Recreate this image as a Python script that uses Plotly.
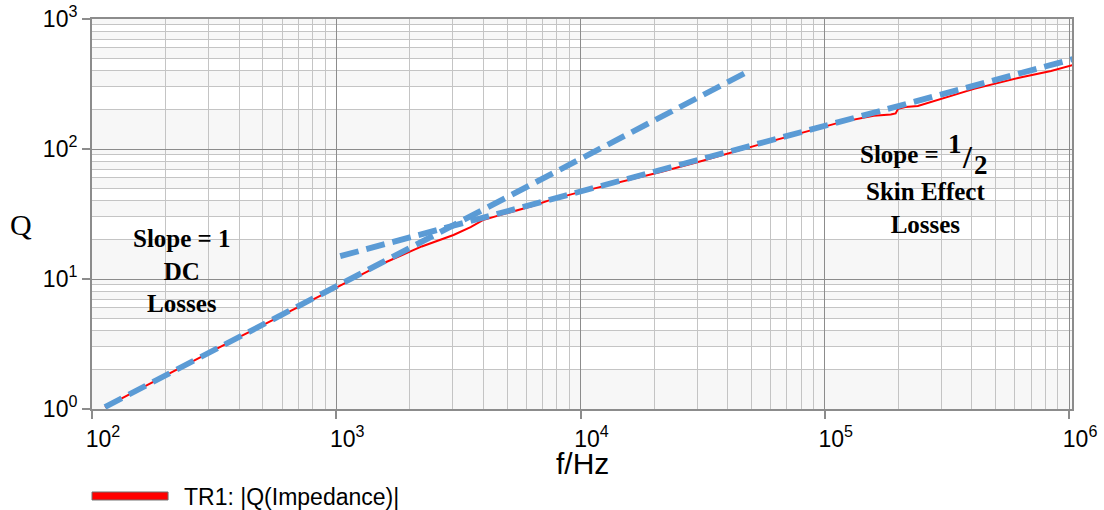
import plotly.graph_objects as go

# ---- data ----
freq_hz = [113, 200, 398, 1000, 1585, 2239, 3020, 3548, 3981, 4677, 6310, 7534,
           10000, 21280, 31620, 54700, 100000, 116400, 158500, 186200, 195000,
           199500, 213800, 240400, 408300, 631000, 843300, 1037000]
q_values = [1.035, 1.82, 3.55, 8.6, 13.4, 17.8, 21.8, 25.1, 28.4, 31.0, 36.3, 40.6,
            46.8, 66.5, 81.3, 109, 148, 161, 180, 184, 188,
            204, 210, 214, 290, 355, 398, 443]

slope1_f = [113, 48900]
slope1_q = [1.036, 398]
slope_half_f = [1038, 1038000]
slope_half_q = [15.0, 492]

x_tick_vals = [1e2, 1e3, 1e4, 1e5, 1e6]
x_tick_text = ["10<sup>2</sup>", "10<sup>3</sup>", "10<sup>4</sup>", "10<sup>5</sup>", "10<sup>6</sup>"]
y_tick_vals = [1, 10, 100, 1000]
y_tick_text = ["10<sup>0</sup>", "10<sup>1</sup>", "10<sup>2</sup>", "10<sup>3</sup>"]

series_name = "TR1: |Q(Impedance)|"
x_title = "f/Hz"
y_title = "Q"

RED = "#ff0000"
BLUE = "#5b9bd5"
MAJOR = "#8c8c8c"
MINOR = "#c4c4c4"

fig = go.Figure()
fig.add_trace(go.Scatter(x=freq_hz, y=q_values, mode="lines", name=series_name,
                         line=dict(color=RED, width=2), showlegend=False))
for fx, qy in [(slope1_f, slope1_q), (slope_half_f, slope_half_q)]:
    fig.add_trace(go.Scatter(x=fx, y=qy, mode="lines", showlegend=False,
                             line=dict(color=BLUE, width=5.8, dash="19px,8px")))

# alternating horizontal bands
shapes = []
for dec in [1, 10, 100]:
    for a in [1, 3, 5, 7, 9]:
        shapes.append(dict(type="rect", xref="paper", yref="y", x0=0, x1=1,
                           y0=a * dec, y1=(a + 1) * dec, fillcolor="#f7f7f7",
                           line=dict(width=0), layer="below"))
# legend symbol
shapes.append(dict(type="rect", xref="paper", yref="paper", x0=0.0, x1=0.0776,
                   y0=-0.2333, y1=-0.2128, fillcolor=RED,
                   line=dict(color="#707070", width=1)))

serif_b = dict(family="Liberation Serif, Times New Roman, serif", size=25, color="black")
ann = [
    dict(text=series_name, x=0.092, y=-0.2256, xref="paper", yref="paper",
         xanchor="left", yanchor="middle", showarrow=False,
         font=dict(family="Liberation Sans, Arial", size=23, color="black")),
    dict(text=x_title, x=0.5, y=-0.1385, xref="paper", yref="paper",
         xanchor="center", yanchor="middle", showarrow=False,
         font=dict(family="Liberation Sans, Arial", size=30, color="black")),
    dict(text=y_title, x=-0.0724, y=0.474, xref="paper", yref="paper",
         xanchor="center", yanchor="middle", showarrow=False,
         font=dict(family="Liberation Serif, Times New Roman, serif", size=30, color="black")),
    dict(text="<b>Slope = 1<br>DC<br>Losses</b>", x=0.0918, y=0.354, xref="paper",
         yref="paper", xanchor="center", yanchor="middle", showarrow=False, font=serif_b),
    dict(text="<b>Skin Effect<br>Losses</b>", x=0.85, y=0.515, xref="paper",
         yref="paper", xanchor="center", yanchor="middle", showarrow=False, font=serif_b),
    dict(text="<b>Slope =</b>", x=0.824, y=0.652, xref="paper",
         yref="paper", xanchor="center", yanchor="middle", showarrow=False, font=serif_b),
    dict(text="<b>1</b>", x=0.8806, y=0.679, xref="paper",
         yref="paper", xanchor="center", yanchor="middle", showarrow=False,
         font=dict(family=serif_b["family"], size=27, color="black")),
    dict(text="<b>/</b>", x=0.893, y=0.646, xref="paper",
         yref="paper", xanchor="center", yanchor="middle", showarrow=False,
         font=dict(family=serif_b["family"], size=32, color="black")),
    dict(text="<b>2</b>", x=0.907, y=0.626, xref="paper",
         yref="paper", xanchor="center", yanchor="middle", showarrow=False,
         font=dict(family=serif_b["family"], size=27, color="black")),
]

axis_common = dict(
    type="log", automargin=False,
    showgrid=True, gridcolor=MAJOR, gridwidth=1.2,
    minor=dict(dtick="D1", showgrid=True, gridcolor=MINOR, gridwidth=1),
    showline=True, linecolor=MAJOR, linewidth=2, mirror=True,
    ticks="outside", ticklen=8, tickcolor=MAJOR, tickwidth=1.5,
    tickfont=dict(family="Liberation Sans, Arial", size=23, color="black"),
    zeroline=False,
)

fig.update_layout(
    width=1104, height=510,
    margin=dict(l=92, r=32, t=19, b=101),
    paper_bgcolor="white", plot_bgcolor="white",
    xaxis=dict(range=[2, 6.012], ticklabelshift=11, tickvals=x_tick_vals,
               ticktext=x_tick_text, **axis_common),
    yaxis=dict(range=[0, 3], tickvals=y_tick_vals, ticktext=y_tick_text, **axis_common),
    shapes=shapes, annotations=ann, showlegend=False,
)

fig.write_html("out.html", config={"displayModeBar": False},
               post_script="document.body.style.margin='0px';")
